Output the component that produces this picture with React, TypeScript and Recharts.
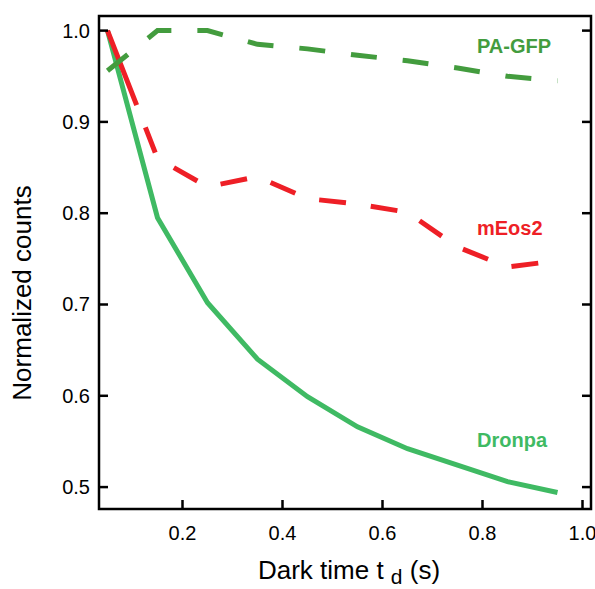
import React from 'react';
import { LineChart, Line, XAxis, YAxis, Customized } from 'recharts';

// dark time t_d (s)
const DARK_TIME = [0.05, 0.15, 0.25, 0.35, 0.45, 0.55, 0.65, 0.75, 0.85, 0.95];
const DRONPA = [1.0, 0.795, 0.702, 0.64, 0.599, 0.566, 0.542, 0.524, 0.506, 0.494];
const MEOS2 = [1.0, 0.86, 0.829, 0.84, 0.816, 0.81, 0.801, 0.763, 0.741, 0.748];
const PAGFP = [0.956, 1.0, 1.0, 0.985, 0.98, 0.973, 0.967, 0.959, 0.95, 0.945];

const X_TICKS = [0.2, 0.4, 0.6, 0.8, 1.0];
const Y_TICKS = [0.5, 0.6, 0.7, 0.8, 0.9, 1.0];

const data = DARK_TIME.map((t, i) => ({
  t,
  dronpa: DRONPA[i],
  meos2: MEOS2[i],
  pagfp: PAGFP[i],
}));

const FONT = '"Liberation Sans", Arial, Helvetica, sans-serif';
const RED = '#ee1f26';
const LIGHT_GREEN = '#3fba63';
const DARK_GREEN = '#439c3e';

const PLOT = { left: 99, top: 16, right: 591, bottom: 509 };

const XTick = (props: any) => {
  const { x, payload } = props;
  return (
    <g>
      <line x1={x} x2={x} y1={PLOT.bottom} y2={PLOT.bottom - 9} stroke="#000" strokeWidth={2.5} />
      <text x={x} y={533} textAnchor="middle" dominantBaseline="central" fontFamily={FONT} fontSize={20} fill="#000">
        {payload.value.toFixed(1)}
      </text>
    </g>
  );
};

const YTick = (props: any) => {
  const { y, payload } = props;
  return (
    <g>
      <line x1={PLOT.left} x2={PLOT.left + 9} y1={y} y2={y} stroke="#000" strokeWidth={2.5} />
      <line x1={PLOT.right - 9} x2={PLOT.right} y1={y} y2={y} stroke="#000" strokeWidth={2.5} />
      <text x={90} y={y} textAnchor="end" dominantBaseline="central" fontFamily={FONT} fontSize={20} fill="#000">
        {payload.value.toFixed(1)}
      </text>
    </g>
  );
};

const Decorations = () => (
  <g>
    <rect
      x={PLOT.left}
      y={PLOT.top}
      width={PLOT.right - PLOT.left}
      height={PLOT.bottom - PLOT.top}
      fill="none"
      stroke="#000"
      strokeWidth={2.5}
    />
    <text x={477} y={53} fontFamily={FONT} fontWeight="bold" fontSize={20} fill={DARK_GREEN}>PA-GFP</text>
    <text x={477} y={235} fontFamily={FONT} fontWeight="bold" fontSize={20} fill={RED}>mEos2</text>
    <text x={477} y={447} fontFamily={FONT} fontWeight="bold" fontSize={20} fill={LIGHT_GREEN}>Dronpa</text>
    <text
      x={22}
      y={293}
      transform="rotate(-90 22 293)"
      textAnchor="middle"
      dominantBaseline="central"
      fontFamily={FONT}
      fontSize={26}
      fill="#000"
    >
      Normalized counts
    </text>
    <text x={349} y={579} textAnchor="middle" fontFamily={FONT} fontSize={26} fill="#000">
      Dark time t <tspan fontSize={21} dy={5}>d</tspan>
      <tspan dy={-5}> (s)</tspan>
    </text>
  </g>
);

const redDash = '80 24 ' + Array(14).fill('27 25').join(' ');

export default function App() {
  return (
    <div style={{ width: 595, height: 589 }}>
      <style>{'body{margin:0}'}</style>
      <LineChart
        width={595}
        height={589}
        data={data}
        margin={{ top: PLOT.top, right: 595 - PLOT.right, left: 39, bottom: 589 - PLOT.bottom - 50 }}
      >
        <XAxis
          dataKey="t"
          type="number"
          domain={[0.033, 1.017]}
          ticks={X_TICKS}
          tick={<XTick />}
          tickLine={false}
          axisLine={false}
          height={50}
          allowDataOverflow
        />
        <YAxis
          type="number"
          domain={[0.476, 1.016]}
          ticks={Y_TICKS}
          tick={<YTick />}
          tickLine={false}
          axisLine={false}
          width={60}
          allowDataOverflow
        />
        <Line
          type="linear"
          dataKey="dronpa"
          stroke={LIGHT_GREEN}
          strokeWidth={5}
          dot={false}
          isAnimationActive={false}
        />
        <Line
          type="linear"
          dataKey="meos2"
          stroke={RED}
          strokeWidth={5}
          strokeDasharray={redDash}
          dot={false}
          isAnimationActive={false}
        />
        <Line
          type="linear"
          dataKey="pagfp"
          stroke={DARK_GREEN}
          strokeWidth={5}
          strokeDasharray="26 26"
          dot={false}
          isAnimationActive={false}
        />
        <Customized component={Decorations} />
      </LineChart>
    </div>
  );
}
